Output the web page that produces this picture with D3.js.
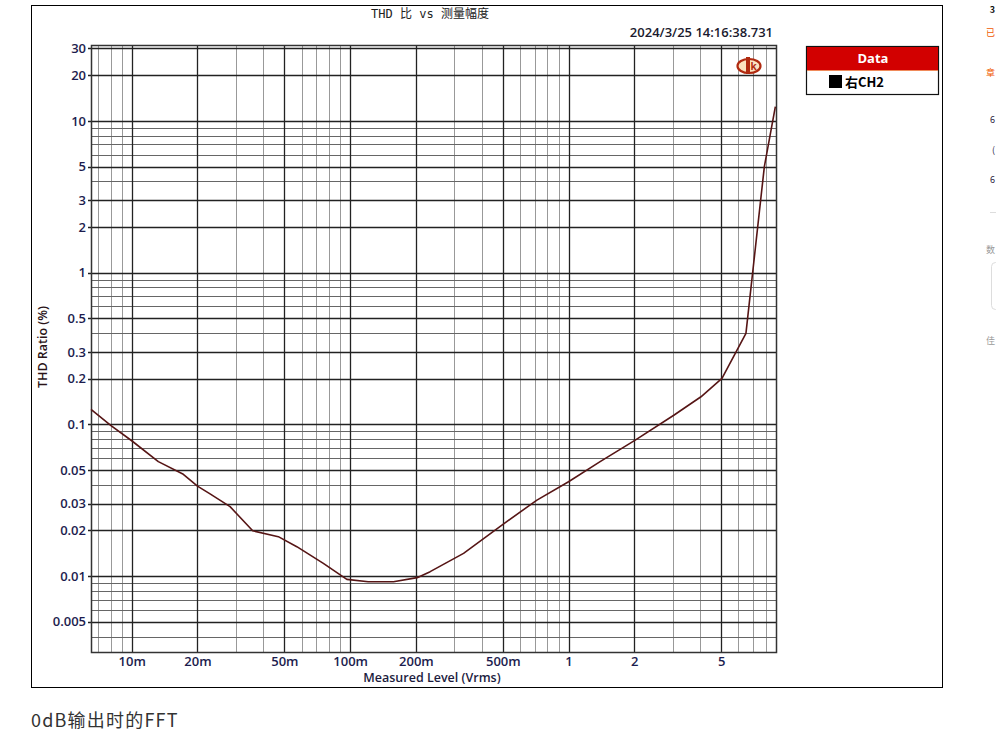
<!DOCTYPE html>
<html><head><meta charset="utf-8">
<script src="https://cdn.jsdelivr.net/npm/d3@7"></script>
<style>
html,body{margin:0;padding:0;background:#fff;overflow:hidden;}
svg{display:block;}
</style></head>
<body>
<svg id="c" width="996" height="733"></svg>
<script>
// ---- data ----
const levels = [0.00651,0.00804,0.01,0.01324,0.01723,0.02,0.02284,0.0282,0.0358,0.0469,0.057,0.0754,0.0966,0.121,0.158,0.2026,0.2325,0.3306,0.4955,0.7166,1.0,1.395,2.02,3.045,4.04,5.04,6.49,7.88,8.85];
const thd    = [0.1257,0.098,0.078,0.0568,0.0469,0.0392,0.0348,0.0287,0.0199,0.0182,0.01563,0.01214,0.00952,0.00919,0.00919,0.00977,0.0107,0.01413,0.0217,0.0317,0.0419,0.0568,0.0788,0.1153,0.152,0.201,0.398,4.99,12.4];
const xTickValues = [0.01,0.02,0.05,0.1,0.2,0.5,1,2,5];
const xTickLabels = ["10m","20m","50m","100m","200m","500m","1","2","5"];
const yTickValues = [30,20,10,5,3,2,1,0.5,0.3,0.2,0.1,0.05,0.03,0.02,0.01,0.005];
const yTickLabels = ["30","20","10","5","3","2","1","0.5","0.3","0.2","0.1","0.05","0.03","0.02","0.01","0.005"];
const seriesName = "右CH2";
const titleText = "THD 比 vs 测量幅度";
const stampText = "2024/3/25 14:16:38.731";
const xTitle = "Measured Level (Vrms)";
const yTitle = "THD Ratio (%)";
const caption = "0dB输出时的FFT";

const svg = d3.select("#c");
const L = 91, R = 776, T = 45, B = 652;
const x = d3.scaleLog().domain([0.00651, 8.91]).range([L, R]);
const y = d3.scaleLog().domain([Math.pow(10,-2.5), Math.pow(10,1.5)]).range([B, T]);

// outer frame
svg.append("rect").attr("x",31.5).attr("y",5.5).attr("width",911).attr("height",682)
  .attr("fill","none").attr("stroke","#000").attr("stroke-width",1);

function gridVals(domain, mult){
  const out = [];
  for (let e = -4; e <= 2; e++) for (const m of mult) {
    const v = m*Math.pow(10,e);
    if (v >= domain[0]*1.0001 && v <= domain[1]*0.9999) out.push(v);
  }
  return out;
}
const xMinor = gridVals(x.domain(), [3,4,6,7,8,9]);
const xMajor = gridVals(x.domain(), [1,2,5]);
const yMinor = gridVals(y.domain(), [4,6,7,8,9]);
const yMajor = gridVals(y.domain(), [1,2,3,5]);

const g = svg.append("g");
g.selectAll("line.xm").data(xMinor).join("line")
  .attr("x1",d=>Math.round(x(d))+0.5).attr("x2",d=>Math.round(x(d))+0.5).attr("y1",T).attr("y2",B)
  .attr("stroke","#999").attr("stroke-width",1);
g.selectAll("line.ym").data(yMinor).join("line")
  .attr("y1",d=>Math.round(y(d))+0.5).attr("y2",d=>Math.round(y(d))+0.5).attr("x1",L).attr("x2",R)
  .attr("stroke","#666").attr("stroke-width",1);
g.selectAll("line.xM").data(xMajor).join("line")
  .attr("x1",d=>Math.round(x(d))+0.5).attr("x2",d=>Math.round(x(d))+0.5).attr("y1",T).attr("y2",B)
  .attr("stroke","#222").attr("stroke-width",1.3);
g.selectAll("line.yM").data(yMajor).join("line")
  .attr("y1",d=>Math.round(y(d))+0.5).attr("y2",d=>Math.round(y(d))+0.5).attr("x1",L-3).attr("x2",R)
  .attr("stroke","#222").attr("stroke-width",1.3);

svg.append("rect").attr("x",L+0.5).attr("y",T+0.5).attr("width",R-L).attr("height",B-T)
  .attr("fill","none").attr("stroke","#333").attr("stroke-width",1.5);

const font = "'Open Sans','Noto Sans',sans-serif";
const yAxis = d3.axisLeft(y).tickValues(yTickValues).tickSize(0).tickPadding(4)
  .tickFormat((d,i)=>yTickLabels[i]);
const ya = svg.append("g").attr("transform",`translate(${L-1},0)`).call(yAxis);
ya.select(".domain").remove();
ya.selectAll("text").attr("font-family",font).attr("font-size",13).attr("font-weight",600).attr("fill","#1c1c4e");

const xAxis = d3.axisBottom(x).tickValues(xTickValues).tickSize(0).tickPadding(5)
  .tickFormat((d,i)=>xTickLabels[i]);
const xa = svg.append("g").attr("transform",`translate(0,${B})`).call(xAxis);
xa.select(".domain").remove();
xa.selectAll("text").attr("font-family",font).attr("font-size",13).attr("font-weight",600).attr("fill","#1c1c4e");

svg.append("text").attr("x",432).attr("y",682).attr("text-anchor","middle")
  .attr("font-family",font).attr("font-size",12.5).attr("font-weight",600).attr("fill","#1c1c3e").text(xTitle);
svg.append("text").attr("transform","translate(47,347) rotate(-90)").attr("text-anchor","middle")
  .attr("font-family",font).attr("font-size",12.5).attr("font-weight",600).attr("fill","#2a1418").text(yTitle);

svg.append("text").attr("x",430).attr("y",18).attr("text-anchor","middle")
  .attr("font-family","'DejaVu Sans Mono','Noto Sans CJK SC',monospace").attr("font-size",12)
  .attr("fill","#222").text(titleText);
svg.append("text").attr("x",773).attr("y",37).attr("text-anchor","end")
  .attr("font-family",font).attr("font-size",13).attr("font-weight",600).attr("fill","#1a1a2e").text(stampText);

// logo
const lg = svg.append("g").attr("transform","translate(749,66)");
lg.append("ellipse").attr("rx",11.5).attr("ry",7).attr("fill","#fbe3c0").attr("stroke","#b02a10").attr("stroke-width",2.2);
lg.append("rect").attr("x",-3).attr("y",-9).attr("width",4).attr("height",17).attr("fill","#b02a10");
lg.append("text").attr("x",1.5).attr("y",4).attr("font-size",10).attr("font-weight",700).attr("font-family",font).attr("fill","#b02a10").text("k");

// data line
const line = d3.line().x(d=>x(d[0])).y(d=>y(d[1]));
const pts = levels.map((v,i)=>[v,thd[i]]);
svg.append("path").datum(pts).attr("d",line).attr("fill","none")
  .attr("stroke","#561515").attr("stroke-width",1.6).attr("stroke-linejoin","round");

// legend
const lx = 806, ly = 46, lw = 132, lh = 48;
svg.append("rect").attr("x",lx+0.5).attr("y",ly+0.5).attr("width",lw).attr("height",lh)
  .attr("fill","#fff").attr("stroke","#111").attr("stroke-width",1.2);
svg.append("rect").attr("x",lx+1).attr("y",ly+1).attr("width",lw-1).attr("height",23).attr("fill","#d20000");
svg.append("line").attr("x1",lx+1).attr("x2",lx+lw).attr("y1",ly+24.5).attr("y2",ly+24.5).attr("stroke","#f08a5a").attr("stroke-width",1);
svg.append("text").attr("x",lx+lw/2+1).attr("y",ly+17).attr("text-anchor","middle")
  .attr("font-family",font).attr("font-size",13).attr("font-weight",700).attr("fill","#fff").text("Data");
svg.append("rect").attr("x",829).attr("y",75).attr("width",13).attr("height",13).attr("fill","#000");
svg.append("text").attr("x",845).attr("y",87).attr("font-family","'Noto Sans CJK SC','Open Sans',sans-serif")
  .attr("font-size",13).attr("font-weight",600).attr("fill","#000").text(seriesName);

// caption
svg.append("text").attr("x",31).attr("y",727).attr("font-family","'Noto Sans CJK SC','Noto Sans',sans-serif")
  .attr("font-size",18).attr("letter-spacing",1.2).attr("fill","#333").text(caption);

// sidebar fragments at the right edge (kept fully inside the page)
const side = [
  {t:"3",y:13,c:"#111",w:700},{t:"已",y:36,c:"#f05a00",w:400},{t:"章",y:76,c:"#f05a00",w:400},
  {t:"6",y:123,c:"#2a1a40",w:400},{t:"(",y:153,c:"#2a1a40",w:400},{t:"6",y:183,c:"#2a1a40",w:400},
  {t:"数",y:253,c:"#999",w:400},{t:"佳",y:344,c:"#999",w:400}
];
svg.selectAll("text.side").data(side).join("text").attr("x",995).attr("y",d=>d.y)
  .attr("text-anchor","end")
  .attr("font-family","'Noto Sans CJK SC',sans-serif").attr("font-size",9).attr("font-weight",d=>d.w)
  .attr("fill",d=>d.c).text(d=>d.t);
svg.append("line").attr("x1",990).attr("x2",996).attr("y1",212.5).attr("y2",212.5).attr("stroke","#ddd");
svg.append("rect").attr("x",991.5).attr("y",262.5).attr("width",20).attr("height",47).attr("rx",4)
  .attr("fill","none").attr("stroke","#ddd");
</script>
</body></html>
